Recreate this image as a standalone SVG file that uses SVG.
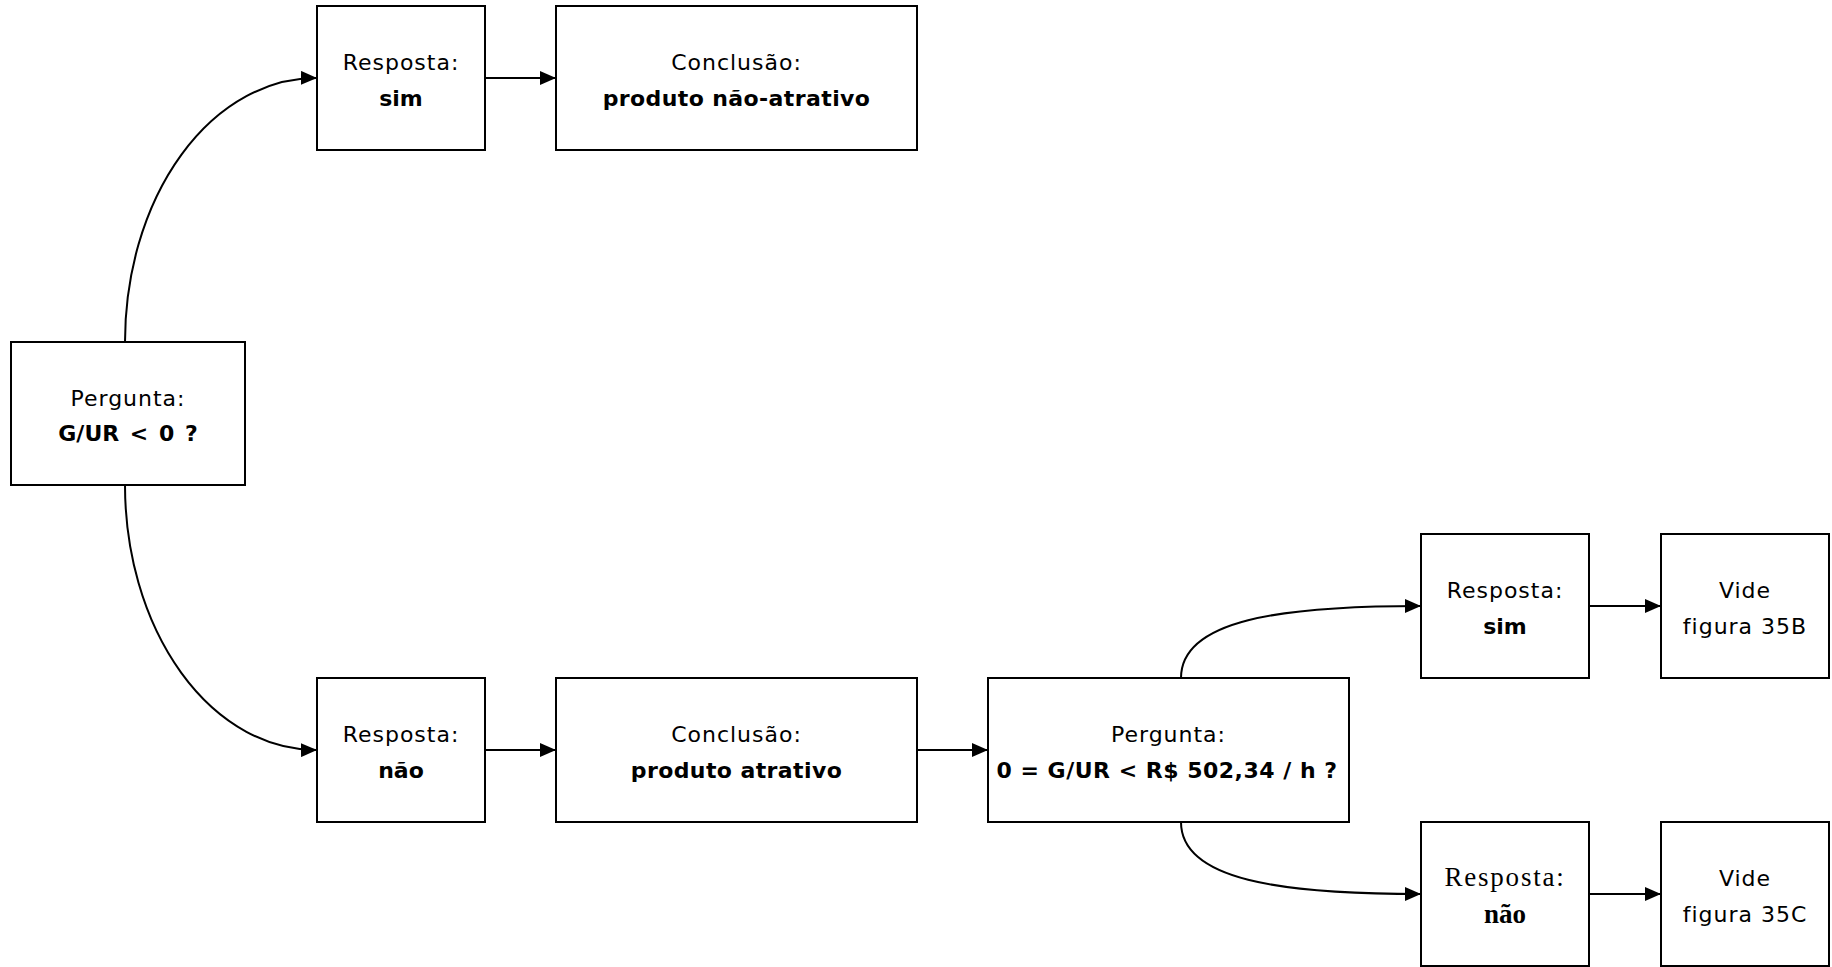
<svg xmlns="http://www.w3.org/2000/svg" width="1832" height="967" viewBox="0 0 1832 967">
<style>
.box{fill:#fff;stroke:#000;stroke-width:2}
.t{font-family:"DejaVu Sans",Verdana,sans-serif;font-size:22px;letter-spacing:1px;text-anchor:middle;fill:#000}
.b{font-family:"DejaVu Sans",Verdana,sans-serif;font-size:22px;font-weight:bold;text-anchor:middle;fill:#000}
.st{font-family:"Liberation Serif","Times New Roman",serif;font-size:27px;letter-spacing:1.8px;text-anchor:middle;fill:#000}
.sb{font-family:"Liberation Serif","Times New Roman",serif;font-size:27px;font-weight:bold;text-anchor:middle;fill:#000}
.c{fill:none;stroke:#000;stroke-width:2;marker-end:url(#arr)}
</style>
<defs>
<marker id="arr" markerUnits="userSpaceOnUse" markerWidth="16" markerHeight="14" refX="16" refY="7" orient="auto">
<path d="M0,0 L16,7 L0,14 z" fill="#000"/>
</marker>
</defs>
<rect width="1832" height="967" fill="#fff"/>
<g id="connectors">
<path class="c" d="M125,342 A191,264 0 0 1 317,78"/>
<path class="c" d="M125,485 A191,265 0 0 0 317,750"/>
<path class="c" d="M485,78 L556,78"/>
<path class="c" d="M485,750 L556,750"/>
<path class="c" d="M917,750 L988,750"/>
<path class="c" d="M1181,678 C1181,620 1280,606 1421,606"/>
<path class="c" d="M1181,822 C1181,880 1280,894 1421,894"/>
<path class="c" d="M1589,606 L1661,606"/>
<path class="c" d="M1589,894 L1661,894"/>
</g>
<g id="q1">
<rect class="box" x="11" y="342" width="234" height="143"/>
<text class="t" x="128" y="405.5">Pergunta:</text>
<text class="b" x="128" y="441" word-spacing="3">G/UR &lt; 0 ?</text>
</g>
<g id="r-sim-1">
<rect class="box" x="317" y="6" width="168" height="144"/>
<text class="t" x="401" y="70">Resposta:</text>
<text class="b" x="401" y="105.5">sim</text>
</g>
<g id="c-nao-atrativo">
<rect class="box" x="556" y="6" width="361" height="144"/>
<text class="t" x="736.5" y="70">Conclusão:</text>
<text class="b" x="736.5" y="105.5" letter-spacing="0.4">produto não-atrativo</text>
</g>
<g id="r-nao-1">
<rect class="box" x="317" y="678" width="168" height="144"/>
<text class="t" x="401" y="742">Resposta:</text>
<text class="b" x="401" y="777.5">não</text>
</g>
<g id="c-atrativo">
<rect class="box" x="556" y="678" width="361" height="144"/>
<text class="t" x="736.5" y="742">Conclusão:</text>
<text class="b" x="736.5" y="777.5" letter-spacing="0.4">produto atrativo</text>
</g>
<g id="q2">
<rect class="box" x="988" y="678" width="361" height="144"/>
<text class="t" x="1168.5" y="742">Pergunta:</text>
<text class="b" x="1167" y="777.5" letter-spacing="0.5">0 = G/UR &lt; R$ 502,34 / h ?</text>
</g>
<g id="r-sim-2">
<rect class="box" x="1421" y="534" width="168" height="144"/>
<text class="t" x="1505" y="598">Resposta:</text>
<text class="b" x="1505" y="633.5">sim</text>
</g>
<g id="vide-35b">
<rect class="box" x="1661" y="534" width="168" height="144"/>
<text class="t" x="1745" y="598">Vide</text>
<text class="t" x="1745" y="633.5">figura 35B</text>
</g>
<g id="r-nao-2">
<rect class="box" x="1421" y="822" width="168" height="144"/>
<text class="st" x="1505" y="886">Resposta:</text>
<text class="sb" x="1505" y="922.5">não</text>
</g>
<g id="vide-35c">
<rect class="box" x="1661" y="822" width="168" height="144"/>
<text class="t" x="1745" y="886">Vide</text>
<text class="t" x="1745" y="921.5">figura 35C</text>
</g>
</svg>
